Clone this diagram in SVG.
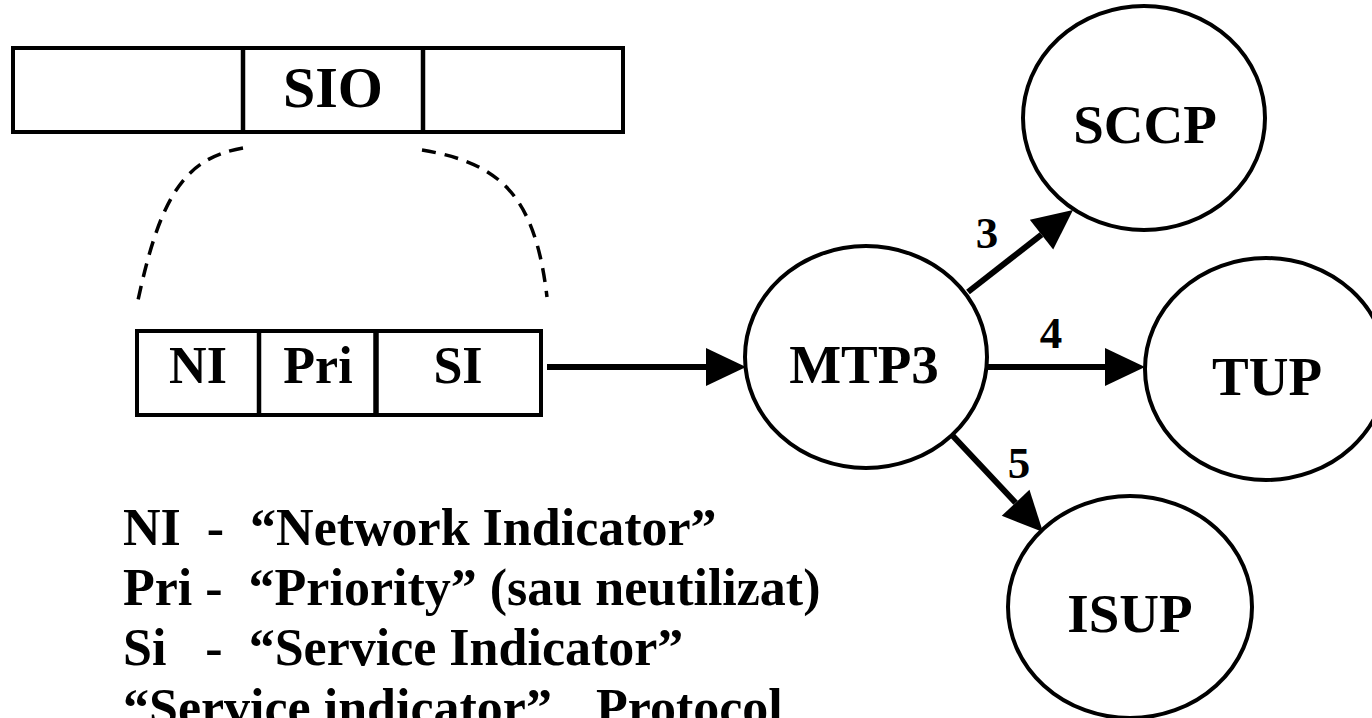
<svg xmlns="http://www.w3.org/2000/svg" width="1372" height="718" viewBox="0 0 1372 718">
<style>
  text { font-family: "Liberation Serif", "Times New Roman", serif; font-weight: bold; fill: #000; }
  .box { fill: #fff; stroke: #000; stroke-width: 4; }
  .div { stroke: #000; stroke-width: 4.5; }
  .node { fill: #fff; stroke: #000; stroke-width: 4; }
  .lbl { font-size: 55px; text-anchor: middle; }
  .cell { font-size: 52px; text-anchor: middle; }
  .num { font-size: 45px; text-anchor: middle; }
  .legend { font-size: 52px; }
  .dash { fill: none; stroke: #000; stroke-width: 3.5; stroke-dasharray: 14 9; }
  .conn { fill: none; stroke: #000; stroke-width: 6; marker-end: url(#ah); }
</style>
<defs>
  <marker id="ah" markerUnits="userSpaceOnUse" markerWidth="40" markerHeight="38" refX="0" refY="19" orient="auto" overflow="visible">
    <path d="M0,0 L40,19 L0,38 Z" fill="#000"/>
  </marker>
</defs>
<rect width="1372" height="718" fill="#fff"/>

<g id="sio-field">
  <rect class="box" x="13" y="48" width="610" height="84"/>
  <line class="div" x1="243" y1="48" x2="243" y2="132"/>
  <line class="div" x1="423" y1="48" x2="423" y2="132"/>
  <text x="333" y="107" style="font-size:58px;text-anchor:middle">SIO</text>
</g>

<g id="expansion">
  <path class="dash" d="M243,148 C185,158 160,195 137,305"/>
  <path class="dash" d="M422,150 C500,163 535,195 547,297"/>
</g>

<g id="sio-detail">
  <rect class="box" x="137" y="331" width="404" height="84"/>
  <line class="div" x1="259" y1="331" x2="259" y2="415"/>
  <line class="div" x1="376" y1="331" x2="376" y2="415" style="stroke-width:5.5"/>
  <text class="cell" x="198" y="383">NI</text>
  <text class="cell" x="318" y="383">Pri</text>
  <text class="cell" x="458" y="383">SI</text>
</g>

<g id="connectors">
  <line class="conn" x1="547" y1="367" x2="706" y2="367"/>
  <line class="conn" x1="968" y1="292" x2="1041.5" y2="234.6"/>
  <line class="conn" x1="987" y1="367" x2="1105" y2="367"/>
  <line class="conn" x1="952" y1="435" x2="1015.6" y2="502.8"/>
  <text class="num" x="987" y="248">3</text>
  <text class="num" x="1051" y="348">4</text>
  <text class="num" x="1019" y="478">5</text>
</g>

<g id="mtp3">
  <ellipse class="node" cx="866" cy="357" rx="121" ry="111"/>
  <text class="lbl" x="864" y="383">MTP3</text>
</g>
<g id="sccp">
  <ellipse class="node" cx="1144" cy="118" rx="121" ry="112"/>
  <text class="lbl" x="1145" y="143">SCCP</text>
</g>
<g id="tup">
  <ellipse class="node" cx="1266" cy="369" rx="121" ry="111"/>
  <text class="lbl" x="1267" y="395">TUP</text>
</g>
<g id="isup">
  <ellipse class="node" cx="1130" cy="607" rx="122" ry="111"/>
  <text class="lbl" x="1130" y="632">ISUP</text>
</g>

<g id="legend">
  <text class="legend" x="123" y="545" xml:space="preserve">NI  -  “Network Indicator”</text>
  <text class="legend" x="123" y="605" xml:space="preserve">Pri -  “Priority” (sau neutilizat)</text>
  <text class="legend" x="123" y="665" xml:space="preserve">Si   -  “Service Indicator”</text>
  <text class="legend" x="123" y="725">“Service indicator”<tspan x="596">Protocol</tspan></text>
</g>
</svg>
